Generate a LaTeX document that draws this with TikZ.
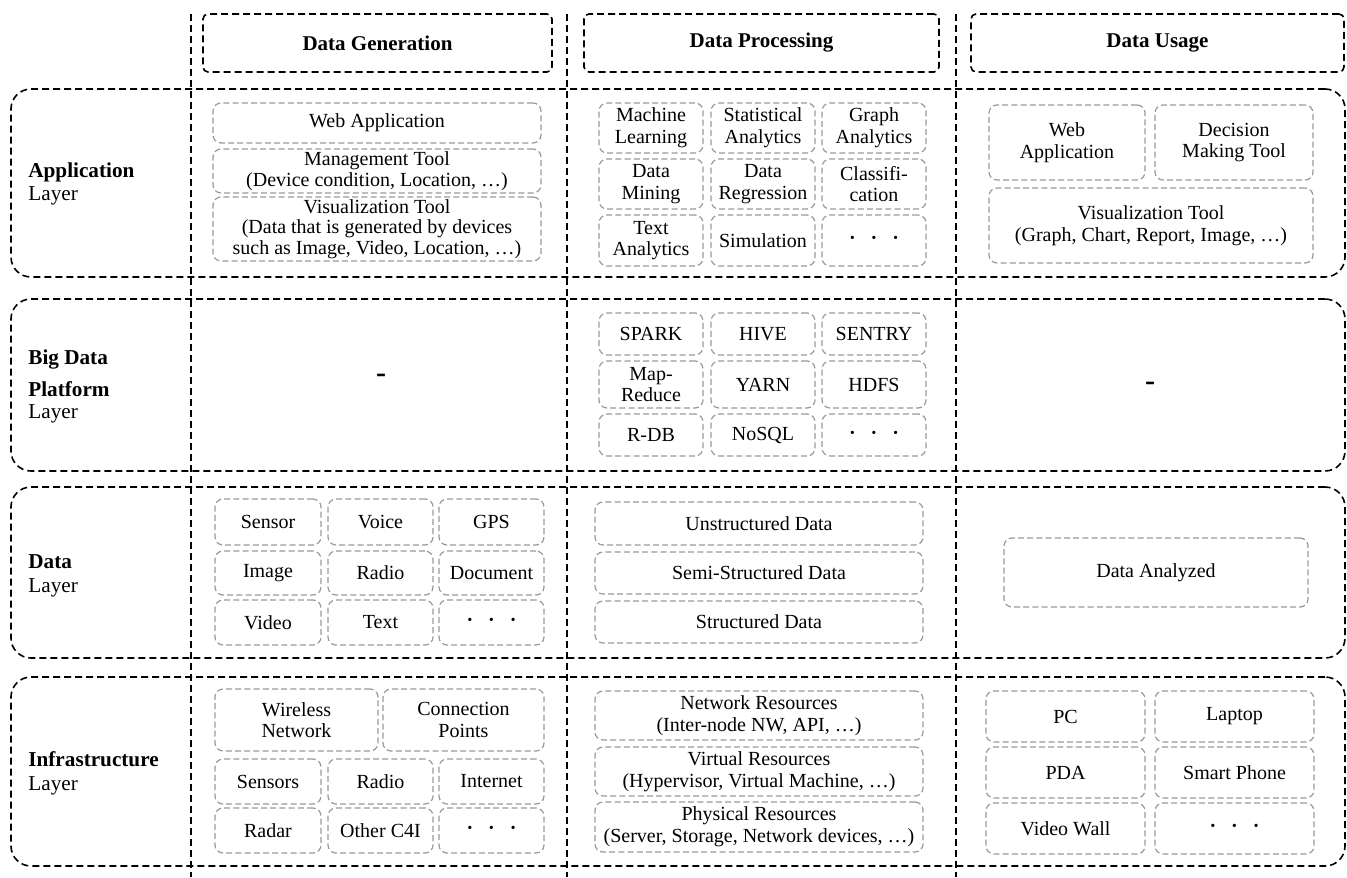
\documentclass[tikz,border=0pt]{standalone}
\usepackage{fontspec}
\setmainfont{Liberation Serif}
\tikzset{
 blk/.style={draw=black, line width=0.8pt, dash pattern=on 3.5pt off 2pt},
 lbox/.style={blk, rounded corners=10pt, inner sep=0pt},
 hbox/.style={blk, rounded corners=2.5pt, inner sep=0pt, font=\fontsize{10.5}{12}\selectfont\bfseries},
 ibox/.style={draw=gray!80, line width=0.6pt, dash pattern=on 3pt off 1.6pt, rounded corners=4pt, align=center, inner sep=0pt, font=\fontsize{10}{10.8}\selectfont},
 iboxtight/.style={ibox, font=\fontsize{10}{10.2}\selectfont},
 lab/.style={anchor=base west, inner sep=0pt, font=\fontsize{10.6}{12}\selectfont},
 labb/.style={lab, font=\fontsize{10.6}{12}\selectfont\bfseries},
 dashmark/.style={inner sep=0pt, font=\fontsize{15}{16}\selectfont\bfseries},
}
\newcommand\bx[7]{\node[#1, minimum width={(#5-#3)*0.5pt}, minimum height={(#6-#4)*0.5pt}] (#2) at ({(#3+#5)/2},{(#4+#6)/2}) {#7};}
\newcommand\tdots{\textbf{·}\hspace{0.75em}\textbf{·}\hspace{0.75em}\textbf{·}}
\begin{document}
\begin{tikzpicture}[x=0.5pt,y=-0.5pt]
\useasboundingbox (0,0) rectangle (1347,877);
% layers
\bx{lbox}{lapp}{11}{89}{1345}{277}{}
\bx{lbox}{lbig}{11}{299}{1345}{471}{}
\bx{lbox}{ldata}{11}{487}{1345}{658}{}
\bx{lbox}{linf}{11}{677}{1345}{866}{}
% column separators
\coordinate (v1t) at (191,14); \coordinate (v1b) at (191,877);
\coordinate (v2t) at (567,14); \coordinate (v2b) at (567,877);
\coordinate (v3t) at (956,14); \coordinate (v3b) at (956,877);
\draw[blk] (v1t) -- (v1b);
\draw[blk] (v2t) -- (v2b);
\draw[blk] (v3t) -- (v3b);
% headers
\bx{hbox}{hgen}{203}{14}{552}{72}{Data Generation}
\bx{hbox}{hproc}{584}{14}{939}{72}{Data Processing}
\bx{hbox}{huse}{971}{14}{1344}{72}{Data Usage}
% layer labels
\node[labb] (tapp) at (28,177) {Application};
\node[lab] (tapp2) at (28,200) {Layer};
\node[labb] (tbig) at (28,364) {Big Data};
\node[labb] (tbig2) at (28,396) {Platform};
\node[lab] (tbig3) at (28,418) {Layer};
\node[labb] (tdat) at (28,568) {Data};
\node[lab] (tdat2) at (28,592) {Layer};
\node[labb] (tinf) at (28,766) {Infrastructure};
\node[lab] (tinf2) at (28,790) {Layer};
% Application layer
\bx{ibox}{a1}{213}{103}{541}{143}{Web Application}
\bx{ibox}{a2}{213}{149}{541}{193}{Management Tool\\(Device condition, Location, \ldots)}
\bx{iboxtight}{a3}{213}{197}{541}{261}{Visualization Tool\\(Data that is generated by devices\\such as Image, Video, Location, \ldots)}
\bx{ibox}{p1}{599}{103}{703}{153}{Machine\\Learning}
\bx{ibox}{p2}{711}{103}{815}{153}{Statistical\\Analytics}
\bx{ibox}{p3}{822}{103}{926}{153}{Graph\\Analytics}
\bx{ibox}{p4}{599}{159}{703}{209}{Data\\Mining}
\bx{ibox}{p5}{711}{159}{815}{209}{Data\\Regression}
\bx{ibox}{p6}{822}{159}{926}{209}{Classifi-\\cation}
\bx{ibox}{p7}{599}{215}{703}{266}{Text\\Analytics}
\bx{ibox}{p8}{711}{215}{815}{266}{Simulation}
\bx{ibox}{p9}{822}{215}{926}{266}{\tdots}
\bx{ibox}{u1}{989}{105}{1145}{180}{Web\\Application}
\bx{ibox}{u2}{1155}{105}{1313}{180}{Decision\\Making Tool}
\bx{ibox}{u3}{989}{188}{1313}{263}{Visualization Tool\\(Graph, Chart, Report, Image, \ldots)}
% Big data platform layer
\node[dashmark] (bgen) at (381,378) {-};
\bx{ibox}{b1}{599}{313}{703}{355}{SPARK}
\bx{ibox}{b2}{711}{313}{815}{355}{HIVE}
\bx{ibox}{b3}{822}{313}{926}{355}{SENTRY}
\bx{ibox}{b4}{599}{361}{703}{408}{Map-\\Reduce}
\bx{ibox}{b5}{711}{361}{815}{408}{YARN}
\bx{ibox}{b6}{822}{361}{926}{408}{HDFS}
\bx{ibox}{b7}{599}{414}{703}{456}{R-DB}
\bx{ibox}{b8}{711}{414}{815}{456}{NoSQL}
\bx{ibox}{b9}{822}{414}{926}{456}{\tdots}
\node[dashmark] (buse) at (1150,386) {-};
% Data layer
\bx{ibox}{d1}{215}{499}{321}{545}{Sensor}
\bx{ibox}{d2}{328}{499}{433}{545}{Voice}
\bx{ibox}{d3}{439}{499}{544}{545}{GPS}
\bx{ibox}{d4}{215}{551}{321}{595}{Image}
\bx{ibox}{d5}{328}{551}{433}{595}{Radio}
\bx{ibox}{d6}{439}{551}{544}{595}{Document}
\bx{ibox}{d7}{215}{600}{321}{645}{Video}
\bx{ibox}{d8}{328}{600}{433}{645}{Text}
\bx{ibox}{d9}{439}{600}{544}{645}{\tdots}
\bx{ibox}{dp1}{595}{502}{923}{545}{Unstructured Data}
\bx{ibox}{dp2}{595}{552}{923}{594}{Semi-Structured Data}
\bx{ibox}{dp3}{595}{601}{923}{643}{Structured Data}
\bx{ibox}{du1}{1004}{538}{1308}{607}{Data Analyzed}
% Infrastructure layer
\bx{ibox}{i1}{215}{689}{378}{751}{Wireless\\Network}
\bx{ibox}{i2}{383}{689}{544}{751}{Connection\\Points}
\bx{ibox}{i3}{215}{759}{321}{804}{Sensors}
\bx{ibox}{i4}{328}{759}{433}{804}{Radio}
\bx{ibox}{i5}{439}{759}{544}{804}{Internet}
\bx{ibox}{i6}{215}{808}{321}{853}{Radar}
\bx{ibox}{i7}{328}{808}{433}{853}{Other C4I}
\bx{ibox}{i8}{439}{808}{544}{853}{\tdots}
\bx{ibox}{ip1}{595}{691}{923}{740}{Network Resources\\(Inter-node NW, API, \ldots)}
\bx{ibox}{ip2}{595}{747}{923}{796}{Virtual Resources\\(Hypervisor, Virtual Machine, \ldots)}
\bx{ibox}{ip3}{595}{802}{923}{852}{Physical Resources\\(Server, Storage, Network devices, \ldots)}
\bx{ibox}{iu1}{986}{691}{1145}{742}{PC}
\bx{ibox}{iu2}{1155}{691}{1314}{742}{Laptop}
\bx{ibox}{iu3}{986}{747}{1145}{798}{PDA}
\bx{ibox}{iu4}{1155}{747}{1314}{798}{Smart Phone}
\bx{ibox}{iu5}{986}{803}{1145}{854}{Video Wall}
\bx{ibox}{iu6}{1155}{803}{1314}{854}{\tdots}
\end{tikzpicture}
\end{document}
